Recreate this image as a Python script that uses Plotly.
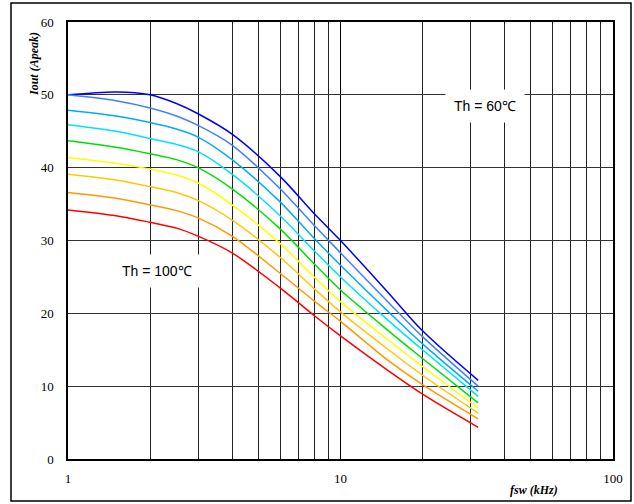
import plotly.graph_objects as go

# Switching frequency (kHz)
fsw = [1, 1.5, 2, 2.5, 3, 4, 6, 8, 10, 15, 20, 32]

# Peak output current (A) for heat-sink temperatures 60..100 C
th60 = [50.0, 50.4, 50.0, 48.8, 47.4, 44.6, 38.8, 33.7, 30.0, 22.8, 17.6, 10.8]
th65 = [50.0, 49.2, 48.2, 47.1, 45.8, 43.1, 37.1, 32.1, 28.3, 21.5, 16.8, 10.0]
th70 = [47.9, 47.1, 46.2, 45.3, 44.2, 41.1, 35.3, 30.3, 26.6, 20.2, 15.8, 9.3]
th75 = [45.9, 45.0, 44.0, 43.2, 42.2, 39.1, 33.4, 28.6, 25.0, 19.0, 15.0, 8.6]
th80 = [43.7, 42.8, 41.9, 41.1, 40.0, 37.1, 31.6, 26.8, 23.2, 17.6, 13.8, 7.7]
th85 = [41.4, 40.6, 39.8, 39.0, 37.9, 34.9, 29.6, 25.0, 21.6, 16.3, 12.7, 7.0]
th90 = [39.1, 38.3, 37.4, 36.6, 35.5, 32.8, 27.7, 23.4, 20.2, 15.0, 11.5, 6.3]
th95 = [36.6, 35.8, 34.9, 34.1, 33.1, 30.6, 25.5, 21.7, 18.9, 13.5, 10.2, 5.5]
th100 = [34.2, 33.4, 32.5, 31.7, 30.6, 28.3, 23.5, 19.7, 16.9, 12.1, 8.9, 4.35]

series = [th60, th65, th70, th75, th80, th85, th90, th95, th100]
names = ["Th = 60℃", "Th = 65℃", "Th = 70℃", "Th = 75℃", "Th = 80℃",
         "Th = 85℃", "Th = 90℃", "Th = 95℃", "Th = 100℃"]
colors = ["#0000FF", "#4080FF", "#00AAFF", "#00E0FF", "#00E000",
          "#FFFF00", "#FFC800", "#FF9900", "#FF0000"]

x_tickvals = [1, 10, 100]
x_minor = [2, 3, 4, 5, 6, 7, 8, 9, 20, 30, 40, 50, 60, 70, 80, 90]
y_tickvals = [0, 10, 20, 30, 40, 50, 60]

fig = go.Figure()
for ys, nm, c in zip(series, names, colors):
    fig.add_trace(go.Scatter(x=fsw, y=ys, mode="lines", name=nm,
                             line=dict(color=c, width=1.5, shape="spline", smoothing=0.9)))

serif = "Liberation Serif"
sans = "Liberation Sans"

fig.update_layout(
    width=634, height=504,
    margin=dict(l=68, r=21, t=22, b=45),
    paper_bgcolor="white", plot_bgcolor="white",
    showlegend=False,
    xaxis=dict(type="log", range=[0, 2], tickmode="array", tickvals=x_tickvals,
               ticktext=["1", "10", "100"],
               showgrid=True, gridcolor="#000000", gridwidth=1,
               minor=dict(tickmode="array", tickvals=x_minor, showgrid=True,
                          gridcolor="#222222", gridwidth=1, ticks=""),
               showline=True, mirror=True, linecolor="black", linewidth=1.5,
               ticks="", ticklabelstandoff=7,
               tickfont=dict(family=serif, size=13, color="black"), zeroline=False),
    yaxis=dict(range=[0, 60], tickmode="array", tickvals=y_tickvals,
               showgrid=True, gridcolor="#333333", gridwidth=1,
               showline=True, mirror=True, linecolor="black", linewidth=1.5,
               ticks="", ticklabelstandoff=10,
               tickfont=dict(family=serif, size=13, color="black"), zeroline=False),
    shapes=[dict(type="rect", xref="paper", yref="paper",
                 x0=(11 - 68) / 545, x1=(631 - 68) / 545,
                 y0=(459 - 501) / 437, y1=(459 - 3) / 437,
                 line=dict(color="black", width=1.5), fillcolor="rgba(0,0,0,0)", layer="below")],
    annotations=[
        dict(x=1.530, y=48.4, xref="x", yref="y", text="Th = 60℃", showarrow=False,
             font=dict(family=sans, size=14, color="black"), bgcolor="white", borderpad=8),
        dict(x=0.328, y=25.8, xref="x", yref="y", text="Th = 100℃", showarrow=False,
             font=dict(family=sans, size=14, color="black"), bgcolor="white", borderpad=8),
        dict(x=(34 - 68) / 545, y=(459 - 64) / 437, xref="paper", yref="paper",
             xanchor="center", yanchor="middle",
             text="<b><i>Iout (Apeak)</i></b>", textangle=-90, showarrow=False,
             font=dict(family=serif, size=12, color="black")),
        dict(x=(534 - 68) / 545, y=(459 - 490) / 437, xref="paper", yref="paper",
             xanchor="center", yanchor="middle",
             text="<b><i>fsw (kHz)</i></b>", showarrow=False,
             font=dict(family=serif, size=12, color="black")),
    ],
)

fig.write_html("out.html", config={"displayModeBar": False},
               post_script="document.body.style.margin='0px';")
